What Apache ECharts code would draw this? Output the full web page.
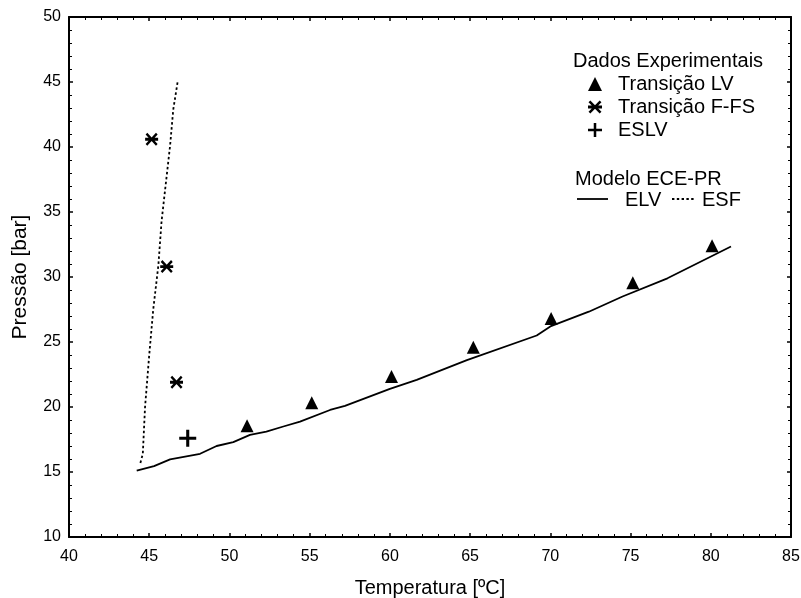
<!DOCTYPE html>
<html>
<head>
<meta charset="utf-8">
<script src="https://cdn.jsdelivr.net/npm/echarts@6/dist/echarts.min.js"></script>
<style>
html,body{margin:0;padding:0;background:#fff;}
#chart{width:801px;height:598px;}
</style>
</head>
<body>
<div id="chart"></div>
<script>
// ---- data ----
var xTicks = [40, 45, 50, 55, 60, 65, 70, 75, 80, 85];
var yTicks = [10, 15, 20, 25, 30, 35, 40, 45, 50];

var transicaoLV = [[51.1, 18.55], [55.13, 20.33], [60.1, 22.35], [65.2, 24.6], [70.05, 26.8], [75.14, 29.56], [80.08, 32.4]];
var transicaoFFS = [[45.15, 40.6], [46.09, 30.8], [46.7, 21.9]];
var eslv = [[47.4, 17.6]];

var modeloELV = [[44.22, 15.1], [45.3, 15.45], [46.3, 15.97], [48.17, 16.4], [49.2, 17.0], [50.24, 17.3], [51.28, 17.85],
  [52.3, 18.1], [53.36, 18.5], [54.4, 18.87], [56.27, 19.77], [57.2, 20.08], [60.0, 21.4], [61.67, 22.08],
  [64.8, 23.6], [69.15, 25.5], [70.0, 26.2], [72.4, 27.33], [74.5, 28.5], [77.3, 29.9], [81.26, 32.35]];
var modeloESF = [[44.45, 15.7], [44.6, 16.4], [44.74, 20.0], [45.0, 24.0], [45.25, 27.5], [45.57, 30.9],
  [45.77, 34.3], [46.3, 40.1], [46.5, 42.9], [46.77, 45.0]];

var FONT = '"Liberation Sans", Arial, sans-serif';
var asteriskPath = 'path://M20.66 9.34L90.66 79.34L79.34 90.66L9.34 20.66Z M79.34 9.34L90.66 20.66L20.66 90.66L9.34 79.34Z M6 41L94 41L94 59L6 59Z';
var plusPath = 'path://M41 0L59 0L59 41L100 41L100 59L59 59L59 100L41 100L41 59L0 59L0 41L41 41Z';

var chart = echarts.init(document.getElementById('chart'), null, {renderer: 'canvas'});

function baseAxis(min, max) {
  return {
    type: 'value', min: min, max: max, interval: 5,
    axisLine: {show: true, onZero: false, lineStyle: {color: '#000', width: 2}},
    axisTick: {show: true, inside: true, length: 4, lineStyle: {color: '#000', width: 1.5}},
    minorTick: {show: true, splitNumber: 5, length: 3, lineStyle: {color: '#000', width: 1}},
    splitLine: {show: false},
    minorSplitLine: {show: false}
  };
}

var xMain = baseAxis(xTicks[0], xTicks[xTicks.length - 1]);
xMain.position = 'bottom';
xMain.name = 'Temperatura [ºC]';
xMain.nameLocation = 'middle';
xMain.nameGap = 41;
xMain.nameTextStyle = {fontFamily: FONT, fontSize: 20, color: '#000'};
xMain.axisLabel = {show: true, fontFamily: FONT, fontSize: 16, color: '#000', margin: 12};

var xTop = baseAxis(xTicks[0], xTicks[xTicks.length - 1]);
xTop.position = 'top';
xTop.axisLabel = {show: false};

var yMain = baseAxis(yTicks[0], yTicks[yTicks.length - 1]);
yMain.position = 'left';
yMain.name = 'Pressão [bar]';
yMain.nameLocation = 'middle';
yMain.nameGap = 38;
yMain.nameTextStyle = {fontFamily: FONT, fontSize: 21, color: '#000'};
yMain.axisLabel = {show: true, fontFamily: FONT, fontSize: 16, color: '#000', margin: 8};

var yRight = baseAxis(yTicks[0], yTicks[yTicks.length - 1]);
yRight.position = 'right';
yRight.axisLabel = {show: false};

var legendText = {fontFamily: FONT, fontSize: 20, color: '#000'};
var legFont = '20px ' + FONT;

chart.setOption({
  animation: false,
  backgroundColor: '#fff',
  grid: {left: 69, right: 10, top: 17, bottom: 61, containLabel: false, outerBoundsMode: 'none'},
  xAxis: [xMain, xTop],
  yAxis: [yMain, yRight],
  graphic: [
    {type: 'text', x: 573, y: 61, style: {text: 'Dados Experimentais', font: legFont, fill: '#000', verticalAlign: 'middle'}},
    {type: 'text', x: 575, y: 179, style: {text: 'Modelo ECE-PR', font: legFont, fill: '#000', verticalAlign: 'middle'}},
    {type: 'line', shape: {x1: 577, y1: 199, x2: 608, y2: 199}, style: {stroke: '#000', lineWidth: 1.8}},
    {type: 'text', x: 625, y: 200, style: {text: 'ELV', font: legFont, fill: '#000', verticalAlign: 'middle'}},
    {type: 'line', shape: {x1: 672, y1: 199, x2: 694, y2: 199}, style: {stroke: '#000', lineWidth: 1.8, lineDash: [2.4, 2.4]}},
    {type: 'text', x: 702, y: 200, style: {text: 'ESF', font: legFont, fill: '#000', verticalAlign: 'middle'}}
  ],
  legend: [
    {
      data: ['Transição LV', 'Transição F-FS', 'ESLV'],
      orient: 'vertical', left: 583, top: 69, itemGap: 3,
      itemWidth: 14, itemHeight: 14,
      textStyle: Object.assign({padding: [0, 0, 0, 11]}, legendText),
      selectedMode: false
    }
  ],
  series: [
    {
      name: 'ELV', type: 'line', data: modeloELV, showSymbol: false, symbol: 'none',
      lineStyle: {color: '#000', width: 1.8}, itemStyle: {color: '#000'}, z: 2
    },
    {
      name: 'ESF', type: 'line', data: modeloESF, showSymbol: false, symbol: 'none',
      lineStyle: {color: '#000', width: 1.8, type: [2.5, 2.5]}, itemStyle: {color: '#000'}, z: 2
    },
    {
      name: 'Transição LV', type: 'scatter', data: transicaoLV, symbol: 'triangle', symbolSize: 13,
      itemStyle: {color: '#000', opacity: 1}, z: 3
    },
    {
      name: 'Transição F-FS', type: 'scatter', data: transicaoFFS, symbol: asteriskPath, symbolSize: 13,
      itemStyle: {color: '#000', opacity: 1}, z: 3
    },
    {
      name: 'ESLV', type: 'scatter', data: eslv, symbol: plusPath, symbolSize: 17,
      itemStyle: {color: '#000', opacity: 1}, z: 3
    }
  ]
});
</script>
</body>
</html>
